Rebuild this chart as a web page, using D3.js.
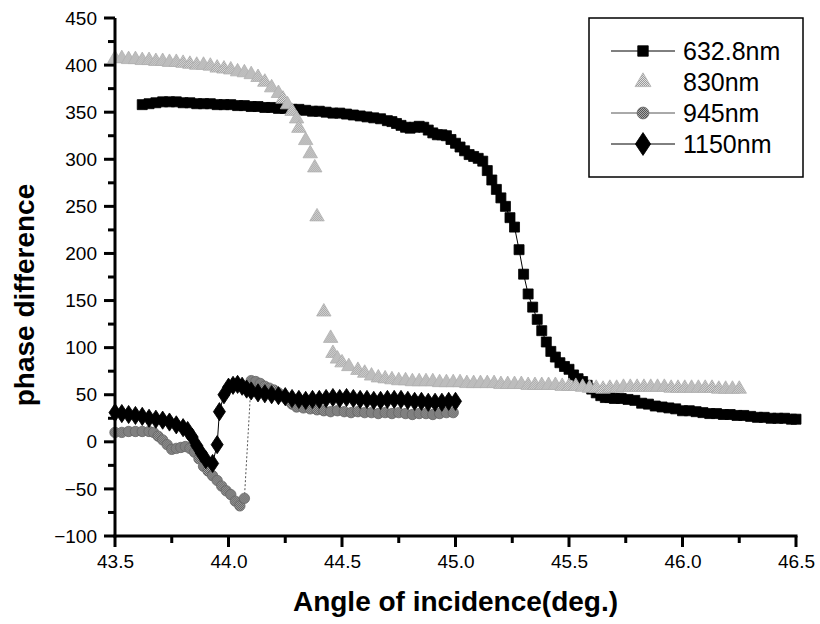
<!DOCTYPE html>
<html>
<head>
<meta charset="utf-8">
<script src="https://cdn.jsdelivr.net/npm/d3@7"></script>
<style>
  body { margin: 0; background: #fff; }
  text { font-family: "Liberation Sans", Arial, sans-serif; }
</style>
</head>
<body>
<div id="container"></div>
<script>

// angle of incidence (deg.), phase difference
let data632 = [
  [43.62,358],[43.65,359],[43.68,360],[43.71,361],[43.74,361],[43.77,361],[43.80,360],[43.83,360],
  [43.86,359],[43.89,359],[43.92,359],[43.95,358],[43.98,358],[44.01,358],[44.04,357],[44.07,357],
  [44.10,356],[44.13,356],[44.16,355],[44.19,355],[44.22,354],[44.25,354],[44.28,353],[44.31,353],
  [44.34,352],[44.37,351],[44.40,351],[44.43,350],[44.46,349],[44.49,349],[44.52,348],[44.55,347],
  [44.58,346],[44.61,345],[44.64,344],[44.67,343],[44.70,341],[44.72,340],[44.74,338],[44.76,336],
  [44.78,334],[44.80,333],[44.82,334],[44.84,335],[44.86,334],[44.88,331],[44.90,328],[44.92,326],
  [44.94,326],[44.96,325],[44.98,321],[45.00,317],[45.02,313],[45.04,309],[45.06,305],[45.08,303],
  [45.10,301],[45.12,298],[45.14,288],[45.16,278],[45.18,268],[45.20,259],[45.22,250],[45.24,238],
  [45.26,228],[45.28,204],[45.30,178],[45.32,157],[45.34,143],[45.36,130],[45.38,118],[45.40,106],
  [45.42,96],[45.44,90],[45.46,84],[45.48,80],[45.50,77],[45.52,71],[45.54,67],[45.56,64],
  [45.58,60],[45.60,56],[45.62,52],[45.64,49],[45.66,47],[45.68,47],[45.70,46],[45.73,46],
  [45.76,45],[45.79,44],[45.82,41],[45.85,40],[45.88,38],[45.91,37],[45.94,36],[45.97,35],
  [46.00,33],[46.03,33],[46.06,32],[46.09,31],[46.12,30],[46.15,30],[46.18,29],[46.21,29],
  [46.24,28],[46.27,28],[46.30,27],[46.33,26],[46.36,26],[46.39,25],[46.42,25],[46.45,25],
  [46.48,24],[46.50,24]
];

let data830 = [
  [43.50,407],[43.53,407],[43.56,406],[43.59,406],[43.62,405],[43.65,405],[43.68,404],[43.71,404],
  [43.74,403],[43.77,403],[43.80,402],[43.83,401],[43.86,400],[43.89,400],[43.92,399],[43.95,397],
  [43.98,396],[44.01,395],[44.04,393],[44.07,392],[44.10,390],[44.13,387],[44.16,382],[44.19,376],
  [44.22,370],[44.24,364],[44.26,358],[44.28,351],[44.30,343],[44.31,333],[44.34,320],[44.36,306],
  [44.38,291],[44.39,239],[44.42,138],[44.45,110],[44.46,94],[44.48,88],[44.50,84],[44.53,80],
  [44.57,76],[44.60,73],[44.63,70],[44.66,68],[44.69,67],[44.72,66],[44.75,65],[44.78,65],
  [44.81,64],[44.84,64],[44.87,64],[44.90,64],[44.93,63],[44.96,63],[44.99,63],[45.02,63],
  [45.05,62],[45.08,62],[45.11,62],[45.14,62],[45.17,62],[45.20,61],[45.23,61],[45.26,61],
  [45.29,61],[45.32,60],[45.35,60],[45.38,60],[45.41,60],[45.44,60],[45.47,59],[45.50,59],
  [45.53,59],[45.56,58],[45.59,57],[45.62,57],[45.65,56],[45.68,57],[45.71,57],[45.74,58],
  [45.77,58],[45.80,58],[45.83,58],[45.86,58],[45.89,58],[45.92,58],[45.95,57],[45.98,57],
  [46.01,57],[46.04,57],[46.07,57],[46.10,57],[46.13,57],[46.16,56],[46.19,56],[46.22,56],
  [46.25,56]
];

let data945 = [
  [43.50,10],[43.53,10],[43.56,11],[43.59,11],[43.62,11],[43.65,11],[43.67,10],[43.69,6],
  [43.71,2],[43.73,-3],[43.75,-8],[43.77,-7],[43.79,-6],[43.81,-5],[43.83,-7],[43.85,-11],
  [43.87,-18],[43.89,-26],[43.91,-31],[43.93,-36],[43.95,-41],[43.97,-47],[43.99,-52],[44.01,-56],
  [44.03,-63],[44.05,-68],[44.07,-60],
  [44.10,65],[44.12,64],[44.14,62],[44.16,59],[44.18,57],[44.20,55],[44.22,52],[44.24,48],
  [44.26,44],[44.28,40],[44.30,37],[44.33,36],[44.36,35],[44.39,34],[44.42,33],[44.45,32],
  [44.48,33],[44.51,32],[44.54,31],[44.57,32],[44.60,31],[44.63,31],[44.66,30],[44.69,31],
  [44.72,30],[44.75,31],[44.78,30],[44.81,29],[44.84,30],[44.87,30],[44.90,29],[44.93,30],
  [44.96,31],[44.99,31]
];

let data1150 = [
  [43.50,31],[43.53,30],[43.56,29],[43.59,28],[43.62,27],[43.65,25],[43.68,24],[43.71,23],
  [43.74,21],[43.77,18],[43.80,15],[43.82,12],[43.84,5],[43.86,-4],[43.88,-12],[43.90,-19],
  [43.93,-23],[43.95,-3],[43.96,32],[43.98,50],[44.00,58],[44.02,60],[44.04,61],[44.06,59],
  [44.08,56],[44.10,54],[44.13,52],[44.16,51],[44.19,50],[44.22,49],[44.25,48],[44.28,46],
  [44.31,45],[44.34,44],[44.37,45],[44.40,45],[44.43,46],[44.46,47],[44.49,46],[44.52,47],
  [44.55,46],[44.58,45],[44.61,45],[44.64,44],[44.67,44],[44.70,45],[44.73,45],[44.76,45],
  [44.79,44],[44.82,43],[44.85,43],[44.88,42],[44.91,42],[44.94,42],[44.97,43],[45.00,43]
];

let seriesNames = ["632.8nm", "830nm", "945nm", "1150nm"];
let xTicks = [43.5, 44.0, 44.5, 45.0, 45.5, 46.0, 46.5];
let xMinor = [43.75, 44.25, 44.75, 45.25, 45.75, 46.25];
let yTicks = [-100, -50, 0, 50, 100, 150, 200, 250, 300, 350, 400, 450];
let yMinor = [-75, -25, 25, 75, 125, 175, 225, 275, 325, 375, 425];

let w = 820;
let h = 624;
let padLeft = 115, padRight = 796, padTop = 18, padBottom = 536;

let viz = d3.select("#container")
  .append("svg")
    .attr("width", w)
    .attr("height", h)
;

// stipple fills, like the scanned grey markers
let defs = viz.append("defs");
function stipple(id, dark, light){
  let p = defs.append("pattern").attr("id", id)
    .attr("width", 2).attr("height", 2).attr("patternUnits", "userSpaceOnUse");
  p.append("rect").attr("width", 2).attr("height", 2).attr("fill", light);
  p.append("rect").attr("width", 1).attr("height", 1).attr("fill", dark);
  p.append("rect").attr("x", 1).attr("y", 1).attr("width", 1).attr("height", 1).attr("fill", dark);
}
stipple("grey830", "#9a9a9a", "#e0e0e0");
stipple("grey945", "#555", "#aaaaaa");

let xScale = d3.scaleLinear().domain([43.5, 46.5]).range([padLeft, padRight]);
let yScale = d3.scaleLinear().domain([-100, 450]).range([padBottom, padTop]);

let graphGroup = viz.append("g").attr("class", "graphGroup");

let lineMaker = d3.line()
  .x(function(d){ return xScale(d[0]); })
  .y(function(d){ return yScale(d[1]); })
;

let sym = {
  square: d3.symbol().type(d3.symbolSquare).size(100),
  triangle: d3.symbol().type(d3.symbolTriangle).size(90),
  circle: d3.symbol().type(d3.symbolCircle).size(85),
  diamond: d3.symbol().type(d3.symbolDiamond).size(95)
};

let series = [
  { name: seriesNames[0], data: data632, shape: "square", fill: "#000", stroke: "#000", line: "#000", dash: null },
  { name: seriesNames[1], data: data830, shape: "triangle", fill: "url(#grey830)", stroke: "#b0b0b0", line: null, dash: null },
  { name: seriesNames[2], data: data945, shape: "circle", fill: "url(#grey945)", stroke: "#666", line: "#555", dash: "2,2" },
  { name: seriesNames[3], data: data1150, shape: "diamond", fill: "#000", stroke: "#000", line: "#000", dash: null }
];

series.forEach(function(s){
  let g = graphGroup.append("g");
  if (s.line) {
    g.append("path")
      .datum(s.data)
      .attr("d", lineMaker)
      .attr("fill", "none")
      .attr("stroke", s.line)
      .attr("stroke-width", 1)
      .attr("stroke-dasharray", s.dash)
    ;
  }
  g.selectAll(".pt").data(s.data).enter()
    .append("path")
      .attr("class", "pt")
      .attr("d", sym[s.shape])
      .attr("transform", function(d){
        let t = "translate(" + xScale(d[0]) + "," + yScale(d[1]) + ")";
        if (s.shape == "diamond") t += " scale(1.15,1)";
        return t;
      })
      .attr("fill", s.fill)
      .attr("stroke", s.stroke)
      .attr("stroke-width", 0.8)
  ;
});

// axes: d3 axes give the labels, ticks are drawn as solid bars
let xAxis = d3.axisBottom(xScale).tickValues(xTicks)
  .tickFormat(d3.format(".1f")).tickSize(0).tickPadding(19);
let xAxisGroup = viz.append("g")
    .attr("class", "xaxisgroup")
    .attr("transform", "translate(0," + padBottom + ")")
;
xAxisGroup.call(xAxis);

let yAxis = d3.axisLeft(yScale).tickValues(yTicks)
  .tickSize(0).tickPadding(18);
let yAxisGroup = viz.append("g")
    .attr("class", "yaxisgroup")
    .attr("transform", "translate(" + padLeft + ",0)")
;
yAxisGroup.call(yAxis);

[xAxisGroup, yAxisGroup].forEach(function(g){
  g.select(".domain").remove();
  g.selectAll("text")
    .attr("font-size", 19)
    .attr("fill", "#000")
    .attr("font-family", "'Liberation Sans', Arial, sans-serif");
});

let axisMarks = viz.append("g").attr("class", "axismarks").attr("fill", "#000");
// axis lines
axisMarks.append("rect")
  .attr("x", padLeft - 1.5).attr("y", padBottom - 1.5)
  .attr("width", padRight - padLeft + 3).attr("height", 3);
axisMarks.append("rect")
  .attr("x", padLeft - 1.5).attr("y", padTop)
  .attr("width", 3).attr("height", padBottom - padTop + 1.5);
// x ticks
axisMarks.selectAll(".xt").data(xTicks.concat(xMinor)).enter()
  .append("rect")
    .attr("x", function(d){ return xScale(d) - 1.5; })
    .attr("y", padBottom)
    .attr("width", 3)
    .attr("height", function(d){ return xTicks.indexOf(d) >= 0 ? 11 : 7; });
// y ticks
axisMarks.selectAll(".yt").data(yTicks.concat(yMinor)).enter()
  .append("rect")
    .attr("x", function(d){ return padLeft - (yTicks.indexOf(d) >= 0 ? 11 : 7); })
    .attr("y", function(d){ return yScale(d) - 1.5; })
    .attr("width", function(d){ return yTicks.indexOf(d) >= 0 ? 11 : 7; })
    .attr("height", 3);

// axis titles
viz.append("text")
  .attr("x", (padLeft + padRight) / 2)
  .attr("y", 611)
  .attr("text-anchor", "middle")
  .attr("font-size", 28)
  .attr("font-weight", "bold")
  .text("Angle of incidence(deg.)");

viz.append("text")
  .attr("transform", "translate(34," + 295 + ") rotate(-90)")
  .attr("text-anchor", "middle")
  .attr("font-size", 28)
  .attr("font-weight", "bold")
  .text("phase difference");

// legend
let legend = viz.append("g").attr("class", "legend");
legend.append("rect")
  .attr("x", 589).attr("y", 18)
  .attr("width", 214).attr("height", 159)
  .attr("fill", "#fff")
  .attr("stroke", "#000")
  .attr("stroke-width", 1.5);

series.forEach(function(s, i){
  let ly = 51 + i * 31;
  if (s.line) {
    legend.append("line")
      .attr("x1", 611).attr("x2", 675)
      .attr("y1", ly).attr("y2", ly)
      .attr("stroke", s.line)
      .attr("stroke-width", 1);
  }
  legend.append("path")
    .attr("d", sym[s.shape].size(s.shape == "diamond" ? 150 : 110)())
    .attr("transform", "translate(643," + ly + ")" + (s.shape == "diamond" ? " scale(1.15,1)" : ""))
    .attr("fill", s.fill)
    .attr("stroke", s.stroke)
    .attr("stroke-width", 0.8);
  legend.append("text")
    .attr("x", 683).attr("y", ly)
    .attr("dy", "0.36em")
    .attr("font-size", 25)
    .text(s.name);
});

</script>
</body>
</html>
